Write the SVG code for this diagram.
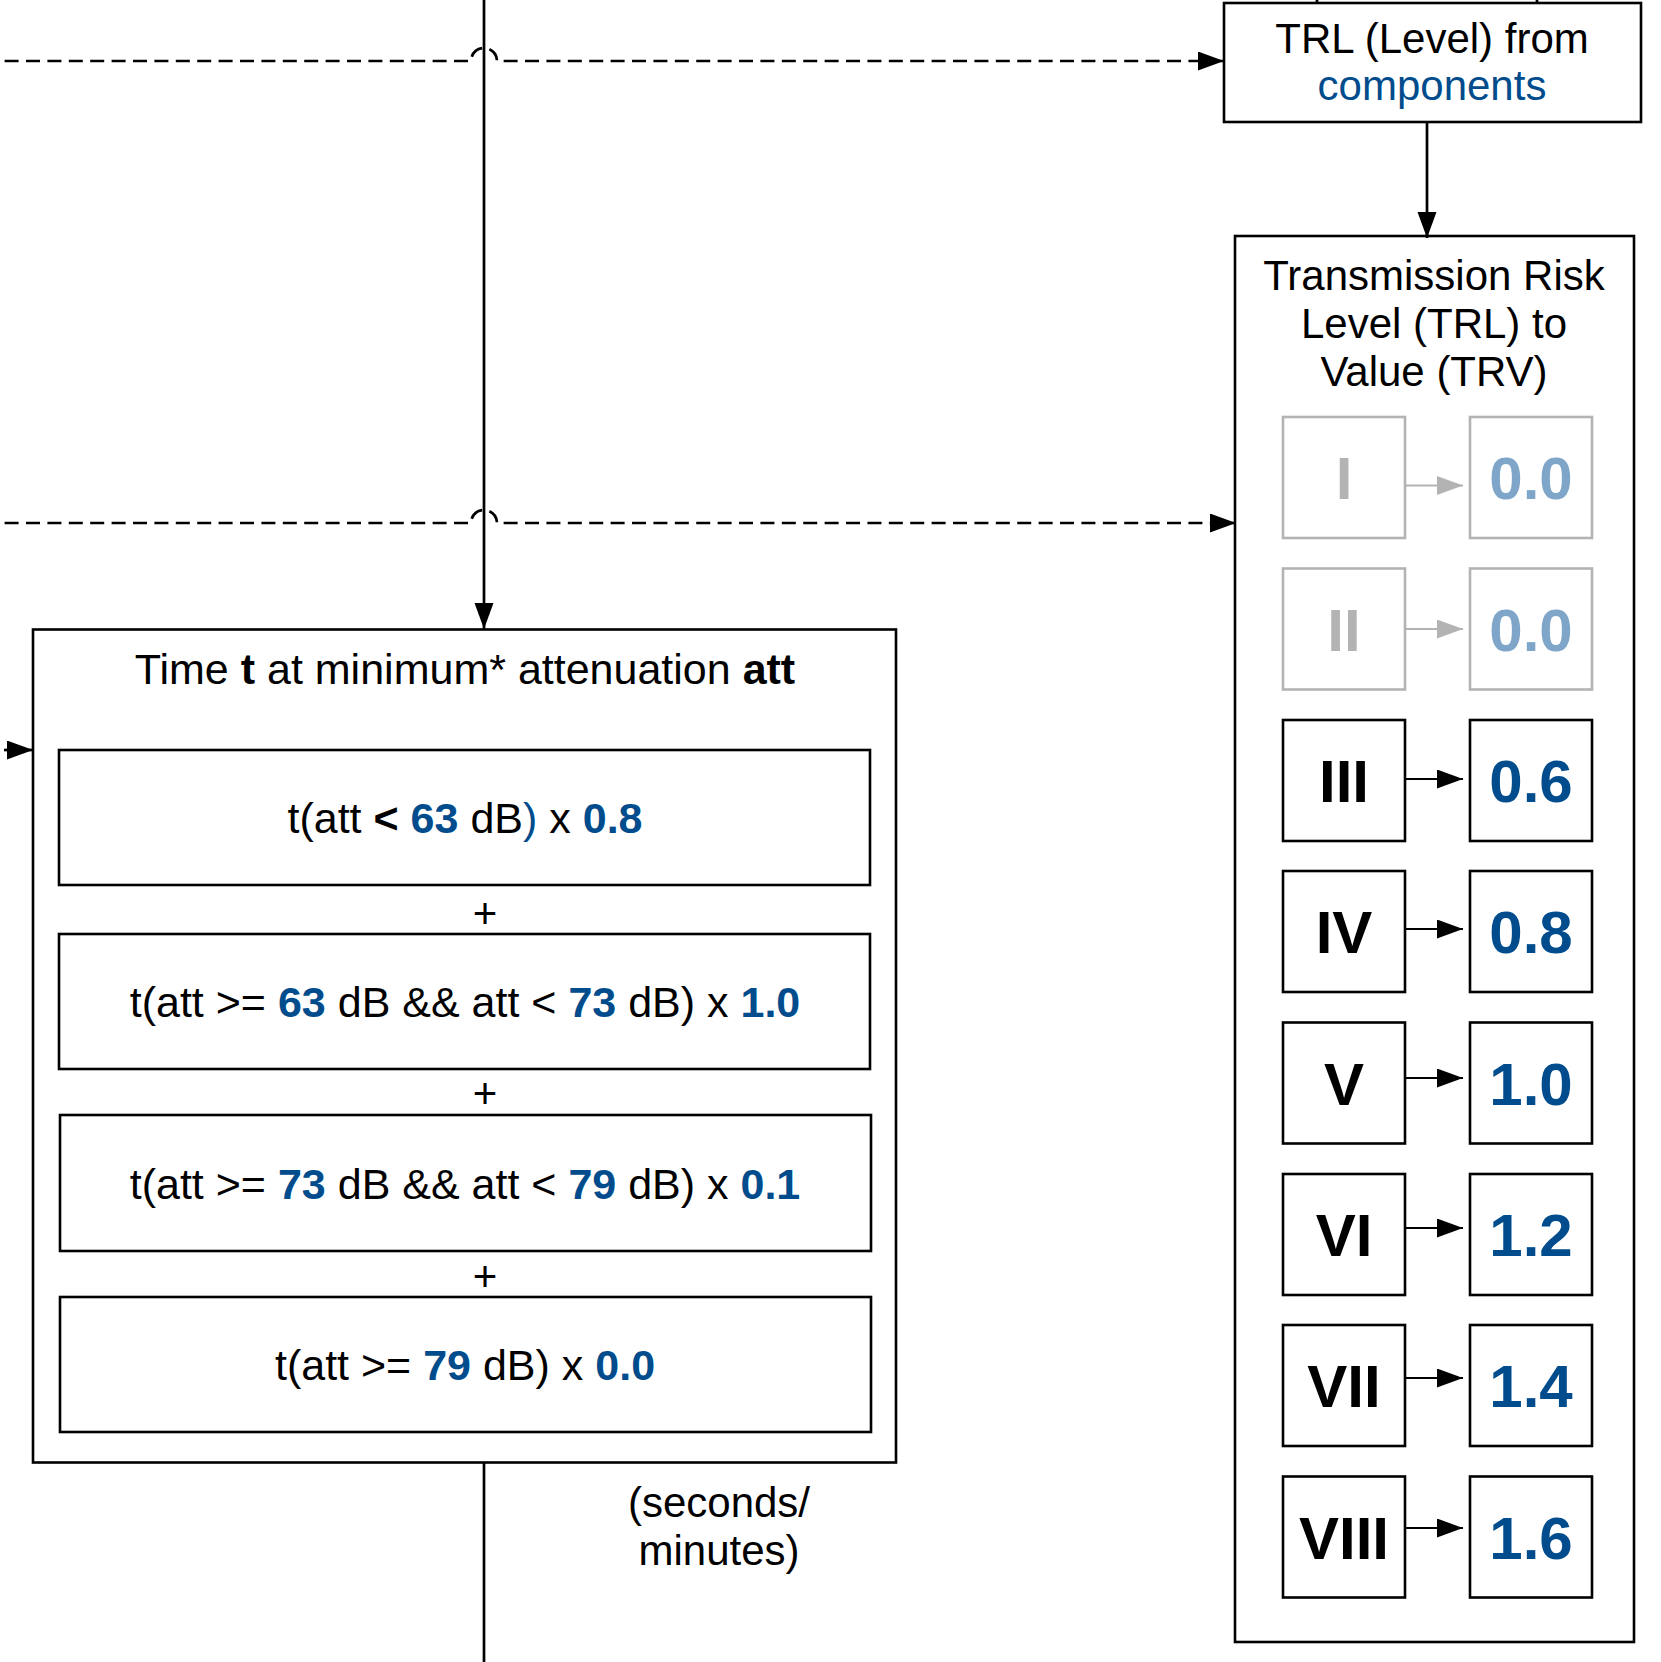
<svg xmlns="http://www.w3.org/2000/svg" width="1661" height="1662" viewBox="0 0 1661 1662">
<defs>
<marker id="arr" markerUnits="userSpaceOnUse" markerWidth="27" markerHeight="20" refX="26" refY="9.5" orient="auto"><path d="M0,0 L26,9.5 L0,19 Z" fill="#000"/></marker>
<marker id="arrg" markerUnits="userSpaceOnUse" markerWidth="27" markerHeight="20" refX="26" refY="9.5" orient="auto"><path d="M0,0 L26,9.5 L0,19 Z" fill="#B3B3B3"/></marker>
</defs>
<style>
text{font-family:"Liberation Sans",Arial,Helvetica,sans-serif;}
.box{fill:#fff;stroke:#000;stroke-width:2.6}
.gbox{fill:#fff;stroke:#B3B3B3;stroke-width:2.6}
.t{font-size:42px;text-anchor:middle;fill:#000}
.t43{font-size:43px;text-anchor:middle;fill:#000}
.big{font-size:60px;font-weight:bold;text-anchor:middle;fill:#000}
.b{font-weight:bold}
.blue{fill:#004C8C}
.fblue{fill:#7FA6C8}
.gray{fill:#B3B3B3}
.conn{fill:none;stroke:#000;stroke-width:2.7}
.dash{stroke-dasharray:14 7.4}
.small{fill:none;stroke:#000;stroke-width:2}
.smallg{fill:none;stroke:#B3B3B3;stroke-width:2}
</style>

<g id="trl-from-components">
<rect class="box" x="1224" y="3" width="417" height="119"/>
<text class="t" x="1432" y="53">TRL (Level) from</text>
<text class="t blue" x="1432" y="100">components</text>
</g>

<g id="trv">
<rect class="box" x="1235" y="236" width="399" height="1406"/>
<text class="t" x="1434" y="290">Transmission Risk</text>
<text class="t" x="1434" y="338">Level (TRL) to</text>
<text class="t" x="1434" y="386">Value (TRV)</text>
</g>

<g id="level-I"><rect class="gbox" x="1283" y="417" width="122" height="121"/><text class="big gray" x="1344" y="499">I</text></g>
<g id="value-I"><rect class="gbox" x="1470" y="417" width="122" height="121"/><text class="big fblue" x="1531" y="499">0.0</text></g>
<g id="level-II"><rect class="gbox" x="1283" y="568.5" width="122" height="121"/><text class="big gray" x="1344" y="650.5">II</text></g>
<g id="value-II"><rect class="gbox" x="1470" y="568.5" width="122" height="121"/><text class="big fblue" x="1531" y="650.5">0.0</text></g>
<g id="level-III"><rect class="box" x="1283" y="720" width="122" height="121"/><text class="big" x="1344" y="802">III</text></g>
<g id="value-III"><rect class="box" x="1470" y="720" width="122" height="121"/><text class="big blue" x="1531" y="802">0.6</text></g>
<g id="level-IV"><rect class="box" x="1283" y="871" width="122" height="121"/><text class="big" x="1344" y="953">IV</text></g>
<g id="value-IV"><rect class="box" x="1470" y="871" width="122" height="121"/><text class="big blue" x="1531" y="953">0.8</text></g>
<g id="level-V"><rect class="box" x="1283" y="1022.5" width="122" height="121"/><text class="big" x="1344" y="1104.5">V</text></g>
<g id="value-V"><rect class="box" x="1470" y="1022.5" width="122" height="121"/><text class="big blue" x="1531" y="1104.5">1.0</text></g>
<g id="level-VI"><rect class="box" x="1283" y="1174" width="122" height="121"/><text class="big" x="1344" y="1256">VI</text></g>
<g id="value-VI"><rect class="box" x="1470" y="1174" width="122" height="121"/><text class="big blue" x="1531" y="1256">1.2</text></g>
<g id="level-VII"><rect class="box" x="1283" y="1325" width="122" height="121"/><text class="big" x="1344" y="1407">VII</text></g>
<g id="value-VII"><rect class="box" x="1470" y="1325" width="122" height="121"/><text class="big blue" x="1531" y="1407">1.4</text></g>
<g id="level-VIII"><rect class="box" x="1283" y="1476.5" width="122" height="121"/><text class="big" x="1344" y="1558.5">VIII</text></g>
<g id="value-VIII"><rect class="box" x="1470" y="1476.5" width="122" height="121"/><text class="big blue" x="1531" y="1558.5">1.6</text></g>

<g id="time-at-attenuation">
<rect class="box" x="33" y="629.5" width="863" height="833"/>
<text class="t43" x="465" y="684">Time <tspan class="b">t</tspan> at minimum* attenuation <tspan class="b">att</tspan></text>
</g>
<g id="row1">
<rect class="box" x="59" y="750" width="811" height="135"/>
<text class="t43" x="465" y="833">t(att <tspan class="b">&lt;</tspan> <tspan class="b blue">63</tspan> dB<tspan class="blue">)</tspan> x <tspan class="b blue">0.8</tspan></text>
</g>
<text id="plus1" class="t" x="485" y="928">+</text>
<g id="row2">
<rect class="box" x="59" y="934" width="811" height="135"/>
<text class="t43" x="465" y="1017">t(att &gt;= <tspan class="b blue">63</tspan> dB &amp;&amp; att &lt; <tspan class="b blue">73</tspan> dB) x <tspan class="b blue">1.0</tspan></text>
</g>
<text id="plus2" class="t" x="485" y="1108">+</text>
<g id="row3">
<rect class="box" x="60" y="1115" width="811" height="136"/>
<text class="t43" x="465" y="1199">t(att &gt;= <tspan class="b blue">73</tspan> dB &amp;&amp; att &lt; <tspan class="b blue">79</tspan> dB) x <tspan class="b blue">0.1</tspan></text>
</g>
<text id="plus3" class="t" x="485" y="1291">+</text>
<g id="row4">
<rect class="box" x="60" y="1297" width="811" height="135"/>
<text class="t43" x="465" y="1380">t(att &gt;= <tspan class="b blue">79</tspan> dB) x <tspan class="b blue">0.0</tspan></text>
</g>

<g id="units-label">
<text class="t" x="719" y="1517">(seconds/</text>
<text class="t" x="719" y="1565">minutes)</text>
</g>

<g id="connectors">
<path class="conn dash" d="M4.6,61 H471 A13,13 0 0 1 497,61 H1224" marker-end="url(#arr)"/>
<path class="conn dash" d="M4.6,523 H471 A13,13 0 0 1 497,523 H1236" marker-end="url(#arr)"/>
<path class="conn" d="M484,0 V629" marker-end="url(#arr)"/>
<path class="conn" d="M484,1463 V1662"/>
<path class="conn" d="M4,750 H33" marker-end="url(#arr)"/>
<path class="conn" d="M1427,122 V238" marker-end="url(#arr)"/>
<path class="conn" d="M1317,-40 V3" marker-end="url(#arr)"/>
<path class="conn" d="M1537,-40 V3" marker-end="url(#arr)"/>
<path class="smallg" d="M1405,485.5 H1463" marker-end="url(#arrg)"/>
<path class="smallg" d="M1405,629 H1463" marker-end="url(#arrg)"/>
<path class="small" d="M1405,779 H1463" marker-end="url(#arr)"/>
<path class="small" d="M1405,929 H1463" marker-end="url(#arr)"/>
<path class="small" d="M1405,1078 H1463" marker-end="url(#arr)"/>
<path class="small" d="M1405,1228 H1463" marker-end="url(#arr)"/>
<path class="small" d="M1405,1378 H1463" marker-end="url(#arr)"/>
<path class="small" d="M1405,1528 H1463" marker-end="url(#arr)"/>
</g>
</svg>
